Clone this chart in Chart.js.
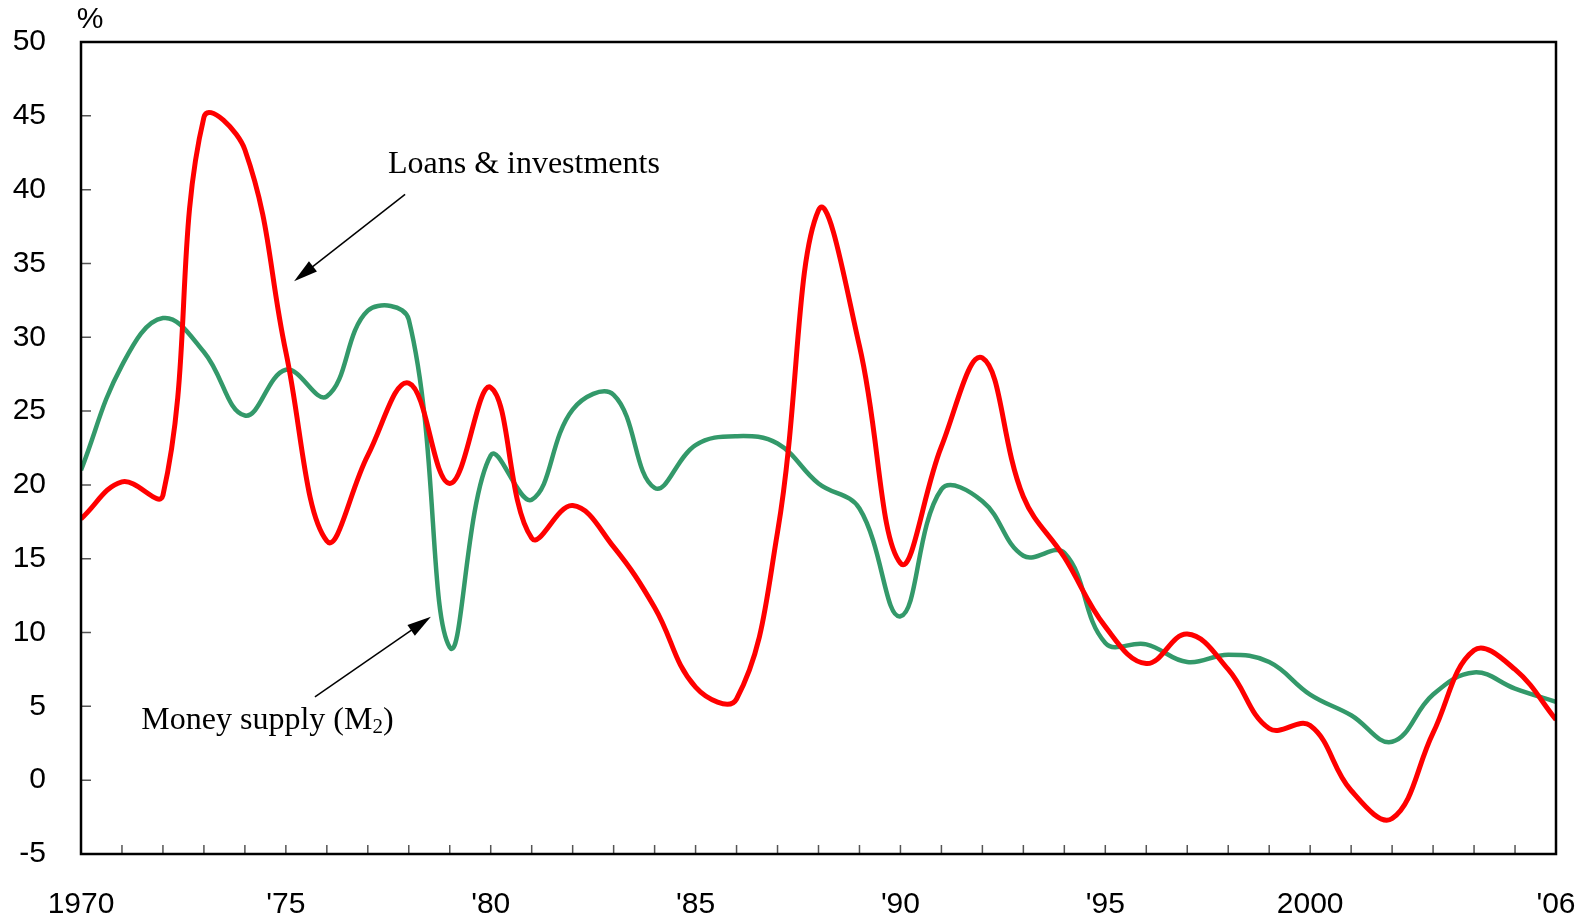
<!DOCTYPE html>
<html lang="en">
<head>
  <meta charset="UTF-8" />
  <title>Loans &amp; investments and money supply growth</title>
  <script src="https://cdn.jsdelivr.net/npm/chart.js"></script>
  <style>
    html, body { margin: 0; padding: 0; background: #fff; }
    .box { width: 1589px; height: 918px; position: relative; }
  </style>
</head>
<body>
  <div class="box"><canvas id="growthChart"></canvas></div>

  <script>
    // annual growth rates, %
    const years = [1970, 1971, 1972, 1973, 1974, 1975, 1976, 1977, 1978, 1979,
                   1980, 1981, 1982, 1983, 1984, 1985, 1986, 1987, 1988, 1989,
                   1990, 1991, 1992, 1993, 1994, 1995, 1996, 1997, 1998, 1999,
                   2000, 2001, 2002, 2003, 2004, 2005, 2006];
    const loans = [17.7, 20.2, 19.3, 44.9, 42.7, 29.0, 16.2, 22.0, 26.9, 20.1,
                   26.6, 16.4, 18.6, 15.8, 11.7, 6.3, 5.5, 16.8, 38.6, 29.4,
                   14.7, 22.6, 28.6, 19.2, 15.1, 10.4, 7.9, 9.9, 7.5, 3.5,
                   3.7, -0.7, -2.6, 3.2, 8.8, 7.5, 4.1];
    const money = [21.0, 28.1, 31.3, 29.0, 24.7, 27.8, 26.0, 31.8, 31.2, 9.0,
                   22.0, 19.0, 25.1, 26.1, 19.8, 22.7, 23.3, 22.8, 20.1, 18.4,
                   11.1, 19.7, 18.9, 15.2, 15.4, 9.3, 9.2, 8.0, 8.5, 8.0,
                   5.8, 4.4, 2.6, 5.8, 7.3, 6.2, 5.3];

    const xTickYears = [1970, 1975, 1980, 1985, 1990, 1995, 2000, 2006];
    const xTickLabels = ['1970', "'75", "'80", "'85", "'90", "'95", '2000', "'06"];

    const tickFont = { family: 'Liberation Sans, Arial, sans-serif', size: 30 };
    const noteFont = '32px "Liberation Serif", "Times New Roman", serif';

    function arrow(ctx, x1, y1, x2, y2) {
      const a = Math.atan2(y2 - y1, x2 - x1);
      const len = 24, half = 6.5;
      ctx.beginPath();
      ctx.moveTo(x1, y1);
      ctx.lineTo(x2 - Math.cos(a) * len * 0.8, y2 - Math.sin(a) * len * 0.8);
      ctx.stroke();
      ctx.beginPath();
      ctx.moveTo(x2, y2);
      ctx.lineTo(x2 - Math.cos(a) * len + Math.sin(a) * half, y2 - Math.sin(a) * len - Math.cos(a) * half);
      ctx.lineTo(x2 - Math.cos(a) * len - Math.sin(a) * half, y2 - Math.sin(a) * len + Math.cos(a) * half);
      ctx.closePath();
      ctx.fill();
    }

    // box, inward ticks, unit label and the two callouts
    const framePlugin = {
      id: 'frame',
      afterDraw(chart) {
        const { ctx, chartArea: area, scales } = chart;
        const xs = scales.x, ys = scales.y;
        ctx.save();

        ctx.strokeStyle = '#555';
        ctx.lineWidth = 1.5;
        ctx.beginPath();
        for (let yr = 1971; yr < 2006; yr++) {
          const px = xs.getPixelForValue(yr);
          ctx.moveTo(px, area.bottom);
          ctx.lineTo(px, area.bottom - 9);
        }
        ys.ticks.forEach(t => {
          if (t.value <= -5 || t.value >= 50) return;
          const py = ys.getPixelForValue(t.value);
          ctx.moveTo(area.left, py);
          ctx.lineTo(area.left + 10, py);
        });
        ctx.stroke();

        ctx.strokeStyle = '#000';
        ctx.lineWidth = 2.5;
        ctx.strokeRect(area.left, area.top, area.right - area.left, area.bottom - area.top);

        ctx.fillStyle = '#000';
        ctx.font = '30px "Liberation Sans", Arial, sans-serif';
        ctx.textAlign = 'center';
        ctx.textBaseline = 'middle';
        ctx.fillText('%', xs.getPixelForValue(1970.22), area.top - 22);

        ctx.font = noteFont;
        ctx.fillText('Loans & investments', xs.getPixelForValue(1980.81), ys.getPixelForValue(41.7));

        // Money supply (M2) with a subscript 2
        const mx = xs.getPixelForValue(1974.55), my = ys.getPixelForValue(4.07);
        const partA = 'Money supply (M', partB = '2', partC = ')';
        ctx.font = noteFont;
        const wA = ctx.measureText(partA).width, wC = ctx.measureText(partC).width;
        ctx.font = '21px "Liberation Serif", "Times New Roman", serif';
        const wB = ctx.measureText(partB).width;
        let sx = mx - (wA + wB + wC) / 2;
        ctx.textAlign = 'left';
        ctx.font = noteFont;
        ctx.fillText(partA, sx, my);
        ctx.font = '21px "Liberation Serif", "Times New Roman", serif';
        ctx.fillText(partB, sx + wA, my + 7);
        ctx.font = noteFont;
        ctx.fillText(partC, sx + wA + wB, my);

        ctx.strokeStyle = '#000';
        ctx.lineWidth = 1.5;
        arrow(ctx, xs.getPixelForValue(1977.91), ys.getPixelForValue(39.68),
                   xs.getPixelForValue(1975.2), ys.getPixelForValue(33.8));
        arrow(ctx, xs.getPixelForValue(1975.71), ys.getPixelForValue(5.64),
                   xs.getPixelForValue(1978.54), ys.getPixelForValue(11.07));
        ctx.restore();
      }
    };

    const ctx = document.getElementById('growthChart').getContext('2d');
    new Chart(ctx, {
      type: 'line',
      data: {
        datasets: [
          {
            label: 'Loans & investments',
            data: years.map((y, i) => ({ x: y, y: loans[i] })),
            borderColor: '#ff0000',
            borderWidth: 5,
            pointRadius: 0,
            tension: 0.4
          },
          {
            label: 'Money supply (M2)',
            data: years.map((y, i) => ({ x: y, y: money[i] })),
            borderColor: '#33996a',
            borderWidth: 4.5,
            pointRadius: 0,
            tension: 0.4
          }
        ]
      },
      options: {
        responsive: true,
        maintainAspectRatio: false,
        animation: false,
        layout: { padding: { top: 42, right: 33, left: 0, bottom: 0 } },
        plugins: {
          legend: { display: false },
          tooltip: { enabled: false }
        },
        scales: {
          x: {
            type: 'linear',
            min: 1970,
            max: 2006,
            afterBuildTicks(scale) {
              scale.ticks = xTickYears.map(v => ({ value: v }));
            },
            afterFit(scale) {
              scale.height = 64;
              scale.paddingLeft = 0;
              scale.paddingRight = 0;
            },
            grid: { display: false, drawTicks: false },
            border: { display: false },
            ticks: {
              autoSkip: false,
              maxRotation: 0,
              padding: 33,
              color: '#000',
              font: tickFont,
              callback: v => xTickLabels[xTickYears.indexOf(v)]
            }
          },
          y: {
            min: -5,
            max: 50,
            afterFit(scale) {
              scale.width = 81;
              scale.paddingTop = 0;
              scale.paddingBottom = 0;
            },
            grid: { display: false, drawTicks: false },
            border: { display: false },
            ticks: {
              stepSize: 5,
              padding: 35,
              color: '#000',
              font: tickFont
            }
          }
        }
      },
      plugins: [framePlugin]
    });
  </script>
</body>
</html>
